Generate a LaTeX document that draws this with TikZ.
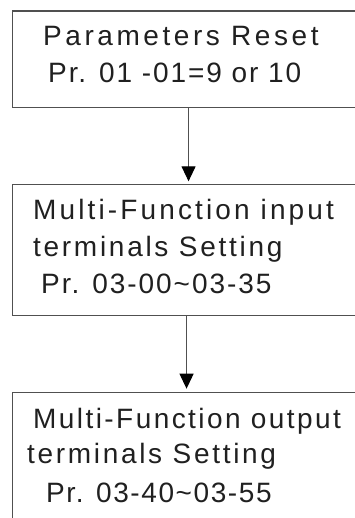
\documentclass[tikz,border=0pt]{standalone}
\usepackage{fontspec}
\setmainfont{Liberation Sans}
\usetikzlibrary{arrows.meta}
\definecolor{linec}{HTML}{505050}
\definecolor{textc}{HTML}{202020}
\newcommand{\ls}[1]{\addfontfeature{LetterSpace=#1}}
\tikzset{
  box/.style={draw=linec, line width=1.1pt, minimum width=352pt, inner sep=0pt},
  txt/.style={anchor=base west, inner sep=0pt, text=textc, font=\fontsize{28}{30}\selectfont},
  conn/.style={draw=linec, line width=1.1pt, -{Triangle[width=14pt,length=15pt,color=black]}, shorten >=3pt}
}
\begin{document}
\begin{tikzpicture}[x=1pt,y=-1pt]
\useasboundingbox (0,0) rectangle (355,518);
\clip (0,0) rectangle (355,518);
\fill[white] (0,0) rectangle (355,518);
\node[box, minimum height=96.5pt, anchor=north west] (b1) at (12,10.5) {};
\node[box, minimum height=130.5pt, anchor=north west] (b2) at (12,184.3) {};
\node[box, minimum height=150pt, anchor=north west] (b3) at (12,391.7) {};
\node[txt] (t11) at (43,46) {\ls{12.7}Parameters Reset};
\node[txt] (t12) at (48,83) {\ls{6.8}Pr. 01 -01=9 or 10};
\node[txt] (t21) at (33,220) {\ls{11.2}Multi-Function input};
\node[txt] (t22) at (33,256) {\ls{9.7}terminals Setting};
\node[txt] (t23) at (41,293) {\ls{7}Pr. 03-00{\char"7E}03-35};
\node[txt] (t31) at (33,428) {\ls{8.7}Multi-Function output};
\node[txt] (t32) at (27,463.5) {\ls{9.6}terminals Setting};
\node[txt] (t33) at (46,502) {\ls{5.7}Pr. 03-40{\char"7E}03-55};
\draw[conn] (b1.south) -- (b2.north);
\draw[conn] ([xshift=-2pt]b2.south) -- ([xshift=-2pt]b3.north);
\end{tikzpicture}
\end{document}
